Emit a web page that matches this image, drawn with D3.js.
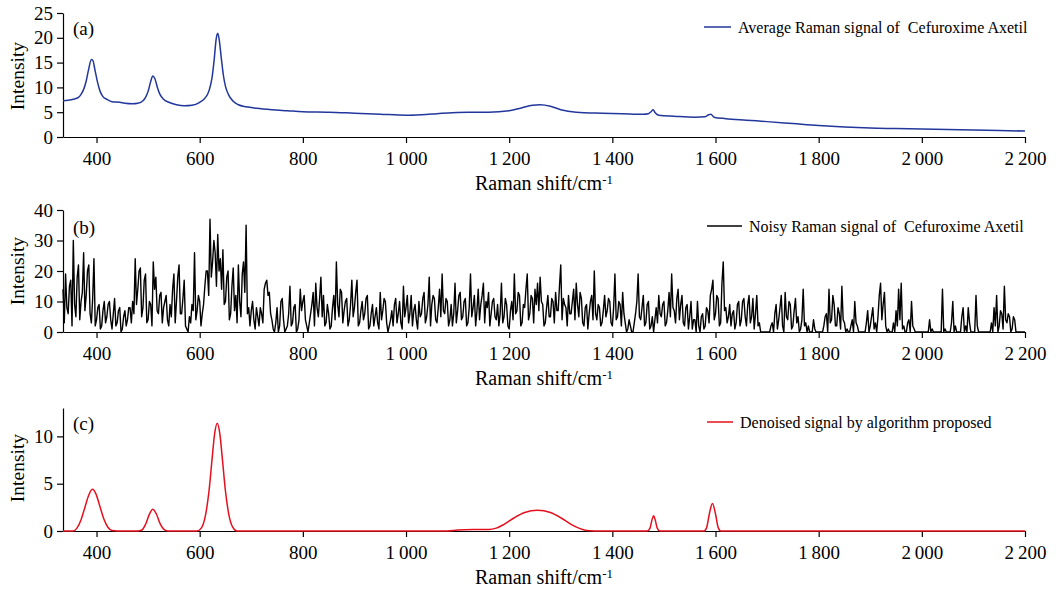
<!DOCTYPE html>
<html>
<head>
<meta charset="utf-8">
<script src="https://cdn.jsdelivr.net/npm/d3@7"></script>
<style>
body { margin: 0; background: #fff; }
text { font-family: "Liberation Serif", "Times New Roman", serif; fill: #000; }
</style>
</head>
<body>
<div id="chart"></div>
<script>
var width = 1056;
var height = 590;

// x axis (Raman shift, cm-1)
var xTicks = [400, 600, 800, 1000, 1200, 1400, 1600, 1800, 2000, 2200];
var xTickLabels = ["400", "600", "800", "1\u2009000", "1\u2009200", "1\u2009400", "1\u2009600", "1\u2009800", "2\u2009000", "2\u2009200"];

// (a) average Raman signal
var avgShift = [335, 345, 355, 365, 370, 375, 380, 385, 390, 393, 397, 402, 407, 412, 420, 430, 445, 455, 470, 480,
	490, 495, 500, 505, 509, 513, 518, 523, 530, 540, 555, 570, 585, 600, 610, 618, 624, 628, 632, 635,
	638, 642, 646, 650, 656, 665, 675, 690, 710, 740, 770, 800, 850, 900, 950, 1000, 1030, 1060, 1090, 1120, 1160,
	1200, 1225, 1245, 1260, 1280, 1300, 1330, 1380, 1420, 1460, 1470, 1475, 1479, 1483, 1490, 1520, 1560, 1580, 1587, 1591,
	1597, 1620, 1660, 1700, 1750, 1800, 1850, 1900, 1950, 2000, 2050, 2100, 2150, 2200];
var avgIntensity = [7.3, 7.4, 7.6, 8.0, 8.6, 9.6, 11.3, 13.8, 15.6, 15.4, 13.5, 11.0, 9.2, 8.2, 7.6, 7.1, 7.0, 6.8, 6.7, 6.8,
	7.3, 8.0, 9.2, 11.2, 12.3, 11.8, 10.0, 8.6, 7.6, 7.0, 6.5, 6.3, 6.4, 7.0, 7.8, 9.3, 12.0, 15.5, 19.8, 20.9,
	19.5, 15.8, 12.4, 10.2, 8.5, 7.2, 6.5, 6.1, 5.8, 5.5, 5.3, 5.1, 5.0, 4.8, 4.6, 4.4, 4.5, 4.7, 4.9, 5.0, 5.0,
	5.3, 5.9, 6.4, 6.5, 6.2, 5.5, 5.0, 4.8, 4.7, 4.6, 4.7, 5.1, 5.5, 4.9, 4.4, 4.2, 4.0, 4.1, 4.5, 4.6,
	4.0, 3.7, 3.4, 3.1, 2.7, 2.3, 2.0, 1.8, 1.7, 1.6, 1.5, 1.4, 1.3, 1.2];

// (b) noisy signal, one value every 2.5 cm-1 from 335 (one row = 100 cm-1)
var noiseStart = 335;
var noiseStep = 2.5;
var noiseIntensity = [
	14, 3, 19, 8, 6, 15, 17, 2, 30, 9, 5, 18, 22, 4, 10, 13, 26, 7, 12, 20, 22, 6, 3, 11, 24, 2, 4, 8, 9, 1, 2, 7, 10, 3, 5, 9, 10, 4, 1, 6,
	11, 2, 3, 7, 8, 0, 1, 5, 7, 2, 4, 8, 8, 3, 10, 6, 24, 9, 14, 20, 21, 5, 8, 17, 19, 3, 4, 10, 9, 2, 23, 14, 18, 7, 6, 12, 13, 3, 8, 10,
	12, 4, 2, 9, 5, 14, 19, 3, 10, 18, 22, 6, 6, 11, 17, 2, 1, 0, 5, 3, 9, 7, 26, 4, 7, 12, 10, 2, 6, 9, 15, 20, 20, 12, 37, 18, 23, 30, 26, 15,
	32, 20, 24, 14, 27, 9, 10, 18, 20, 4, 6, 15, 21, 7, 12, 3, 22, 10, 5, 19, 23, 13, 35, 6, 8, 2, 7, 10, 4, 1, 8, 5, 2, 8, 6, 3, 14, 16, 17, 12,
	13, 6, 4, 1, 0, 3, 8, 0, 2, 10, 11, 4, 0, 1, 2, 6, 15, 2, 3, 8, 9, 0, 1, 4, 14, 7, 10, 12, 4, 2, 0, 3, 6, 9, 13, 2, 16, 8, 5, 11,
	18, 5, 12, 2, 3, 9, 6, 1, 2, 8, 12, 4, 23, 9, 5, 14, 13, 3, 7, 10, 11, 2, 4, 9, 17, 5, 8, 13, 17, 2, 3, 7, 10, 4, 6, 11, 12, 1, 2, 6,
	9, 2, 5, 8, 3, 1, 13, 4, 7, 11, 10, 3, 0, 2, 4, 7, 2, 9, 11, 3, 6, 10, 3, 1, 15, 5, 8, 12, 3, 6, 12, 2, 7, 9, 4, 1, 10, 5, 6, 11,
	13, 3, 5, 9, 18, 2, 9, 12, 11, 4, 3, 8, 14, 5, 19, 7, 6, 11, 10, 2, 4, 9, 2, 6, 16, 3, 7, 12, 13, 4, 5, 10, 11, 2, 3, 8, 19, 5, 8, 12,
	2, 7, 14, 4, 9, 12, 16, 3, 10, 8, 13, 2, 6, 10, 11, 5, 4, 9, 2, 6, 16, 3, 5, 11, 9, 2, 1, 7, 10, 4, 19, 6, 7, 13, 12, 2, 3, 9, 8, 14,
	19, 4, 6, 12, 11, 3, 14, 9, 16, 7, 18, 10, 9, 2, 3, 8, 12, 5, 5, 11, 10, 3, 13, 7, 7, 15, 22, 4, 11, 9, 8, 2, 12, 6, 6, 10, 14, 4, 16, 9,
	5, 13, 11, 3, 2, 8, 9, 1, 6, 10, 12, 4, 20, 6, 4, 9, 8, 2, 3, 7, 12, 5, 7, 11, 10, 3, 2, 8, 19, 4, 5, 10, 9, 2, 13, 6, 3, 0, 1, 4,
	2, 0, 0, 3, 6, 10, 19, 5, 4, 8, 12, 2, 3, 9, 10, 1, 2, 5, 0, 4, 8, 3, 12, 6, 5, 9, 10, 2, 3, 7, 13, 5, 19, 8, 7, 3, 11, 14, 4, 9,
	12, 3, 2, 8, 9, 1, 5, 10, 1, 4, 4, 0, 10, 2, 0, 5, 6, 1, 2, 8, 7, 3, 12, 14, 17, 4, 6, 12, 11, 2, 3, 16, 23, 7, 8, 3, 5, 9, 2, 6,
	7, 1, 3, 9, 10, 2, 4, 10, 11, 5, 2, 9, 12, 3, 5, 11, 1, 6, 12, 2, 3, 0, 0, 0, 0, 0, 0, 0, 0, 2, 3, 0, 6, 9, 1, 4, 8, 12, 2, 0,
	13, 5, 4, 10, 9, 1, 2, 7, 11, 3, 5, 0, 1, 4, 14, 2, 3, 0, 2, 0, 0, 0, 4, 1, 0, 0, 0, 0, 0, 0, 2, 5, 6, 0, 14, 3, 4, 12, 9, 2,
	2, 8, 6, 1, 15, 4, 3, 0, 1, 0, 0, 2, 4, 0, 10, 3, 2, 0, 0, 0, 0, 0, 0, 3, 7, 0, 2, 5, 8, 1, 3, 0, 5, 12, 16, 4, 9, 13, 2, 0,
	1, 0, 0, 0, 3, 0, 7, 2, 14, 4, 16, 1, 2, 0, 0, 3, 4, 0, 10, 2, 1, 0, 0, 0, 0, 0, 0, 0, 0, 0, 0, 0, 4, 0, 1, 0, 0, 0, 0, 0,
	0, 0, 14, 0, 1, 0, 0, 0, 0, 3, 10, 0, 2, 0, 0, 0, 0, 5, 8, 0, 2, 0, 8, 3, 0, 0, 0, 0, 12, 2, 0, 0, 0, 0, 0, 0, 0, 0, 0, 0,
	3, 0, 8, 2, 12, 0, 2, 7, 6, 1, 15, 4, 3, 6, 5, 0, 1, 5, 4, 0, 0, 0, 0, 0, 0, 0, 0];

// (c) denoised signal
var denoisedShift = [335, 355, 362, 370, 378, 385, 392, 399, 406, 414, 422, 430, 440, 480, 488, 495, 502, 509, 516, 523,
	530, 538, 595, 603, 611, 618, 624, 629, 634, 639, 644, 650, 657, 664, 672, 1080, 1100, 1130, 1160, 1175,
	1190, 1210, 1230, 1255, 1280, 1300, 1320, 1335, 1350, 1365, 1468, 1473, 1477, 1480, 1483, 1487, 1492, 1578, 1583, 1588,
	1594, 1600, 1605, 1610, 2200];
var denoisedIntensity = [0, 0, 0.3, 1.2, 2.6, 3.8, 4.4, 3.9, 2.7, 1.3, 0.4, 0.05, 0, 0, 0.1, 0.7, 1.7, 2.3, 1.8, 0.8,
	0.2, 0, 0, 0.3, 1.6, 4.2, 7.6, 10.3, 11.4, 10.3, 7.6, 4.2, 1.6, 0.4, 0, 0, 0.1, 0.15, 0.15, 0.3,
	0.7, 1.4, 1.95, 2.2, 1.95, 1.4, 0.7, 0.3, 0.05, 0, 0, 0.3, 1.2, 1.6, 1.2, 0.3, 0, 0, 0.4, 1.8,
	2.9, 1.8, 0.4, 0, 0];

var legendA = "Average Raman signal of  Cefuroxime Axetil";
var legendB = "Noisy Raman signal of  Cefuroxime Axetil";
var legendC = "Denoised signal by algorithm proposed";

var svg = d3.select("#chart").append("svg")
	.attr("width", width)
	.attr("height", height);

var x = d3.scaleLinear().domain([335, 2200]).range([63, 1025]);

function zip(xs, ys) {
	var out = [];
	for (var i = 0; i < xs.length; i++) {
		out.push({x: xs[i], y: ys[i]});
	}
	return out;
}

function drawPanel(p) {
	var y = d3.scaleLinear().domain(p.yDomain).range([p.bottom, p.top]);
	var g = svg.append("g");

	var xAxis = g.append("g")
		.attr("transform", "translate(0," + p.bottom + ")")
		.call(d3.axisBottom(x)
			.tickValues(xTicks)
			.tickFormat(function(d, i) { return xTickLabels[i]; })
			.tickSize(6)
			.tickPadding(9)
			.tickSizeOuter(0));

	var yAxis = g.append("g")
		.attr("transform", "translate(63,0)")
		.call(d3.axisLeft(y)
			.tickValues(p.yTicks)
			.tickSize(6)
			.tickPadding(4)
			.tickSizeOuter(0));

	[xAxis, yAxis].forEach(function(a) {
		a.attr("font-family", null).attr("font-size", null);
		a.selectAll("text").style("font-size", "19px");
		a.selectAll("path, line").attr("stroke", "#000").attr("stroke-width", 1.2);
	});

	var line = d3.line()
		.x(function(d) { return x(d.x); })
		.y(function(d) { return y(d.y); });
	if (p.curve) line.curve(p.curve);

	g.append("path")
		.datum(p.data)
		.attr("fill", "none")
		.attr("stroke", p.color)
		.attr("stroke-width", p.strokeWidth)
		.attr("stroke-linejoin", "round")
		.attr("d", line);

	// axis titles
	var t = g.append("text")
		.attr("x", 544)
		.attr("y", p.bottom + 53)
		.attr("text-anchor", "middle")
		.style("font-size", "20px")
		.text("Raman shift/cm");
	t.append("tspan")
		.attr("dy", "-0.45em")
		.style("font-size", "13px")
		.text("-1");

	g.append("text")
		.attr("transform", "translate(24," + p.titleY + ") rotate(-90)")
		.attr("text-anchor", "middle")
		.style("font-size", "19.5px")
		.text("Intensity");

	// panel letter
	g.append("text")
		.attr("x", 73)
		.attr("y", p.letterY)
		.style("font-size", "19px")
		.text(p.letter);

	// legend
	g.append("line")
		.attr("x1", p.legendX)
		.attr("x2", p.legendX + p.legendLen)
		.attr("y1", p.legendY)
		.attr("y2", p.legendY)
		.attr("stroke", p.color)
		.attr("stroke-width", 1.5);
	g.append("text")
		.attr("x", p.legendX + p.legendLen + 7)
		.attr("y", p.legendY + 6)
		.style("font-size", "16px")
		.style("white-space", "pre")
		.text(p.legend);
}

var noiseData = noiseIntensity.map(function(v, i) {
	return {x: noiseStart + i * noiseStep, y: v};
});

drawPanel({
	yDomain: [0, 25], yTicks: [0, 5, 10, 15, 20, 25], top: 13, bottom: 137,
	data: zip(avgShift, avgIntensity), color: "#22379b", strokeWidth: 1.5, curve: d3.curveMonotoneX,
	titleY: 76, letter: "(a)", letterY: 35,
	legendX: 704, legendLen: 27, legendY: 27, legend: legendA
});

drawPanel({
	yDomain: [0, 40], yTicks: [0, 10, 20, 30, 40], top: 210, bottom: 332,
	data: noiseData, color: "#000", strokeWidth: 1.4, curve: null,
	titleY: 271, letter: "(b)", letterY: 234,
	legendX: 707, legendLen: 35, legendY: 226, legend: legendB
});

drawPanel({
	yDomain: [0, 13], yTicks: [0, 5, 10], top: 408, bottom: 531,
	data: zip(denoisedShift, denoisedIntensity), color: "#e5101e", strokeWidth: 1.5, curve: d3.curveMonotoneX,
	titleY: 468, letter: "(c)", letterY: 430,
	legendX: 707, legendLen: 26, legendY: 422, legend: legendC
});
</script>
</body>
</html>
